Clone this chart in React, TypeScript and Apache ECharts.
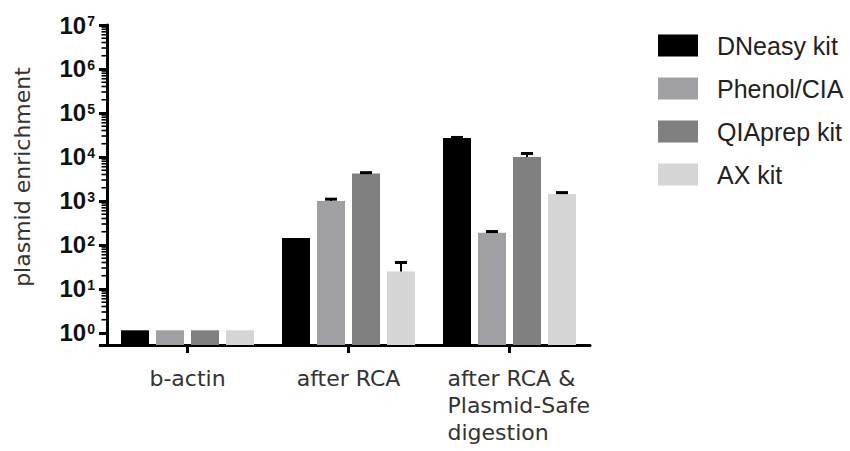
import React, { useEffect, useRef } from "react";
import * as echarts from "echarts";

const categories = ["b-actin", "after RCA", "after RCA &\nPlasmid-Safe\ndigestion"];
const seriesNames = ["DNeasy kit", "Phenol/CIA", "QIAprep kit", "AX kit"];
const seriesColors = ["#000000", "#a0a0a4", "#808080", "#d6d6d6"];
const dneasy = [1.15, 145, 27000];
const phenol = [1.15, 1000, 190];
const qiaprep = [1.15, 4200, 10000];
const axkit = [1.15, 25, 1450];
const dneasyErr = [0, 0, 800];
const phenolErr = [0, 100, 12];
const qiaprepErr = [0, 200, 2000];
const axkitErr = [0, 15, 100];
const minorMultipliers = [2, 3, 4, 5, 6, 7, 8, 9];
const minorDecades = [1, 10, 100, 1000, 10000, 100000, 1000000];

const BAR_W = 28;
const BAR_PITCH = 35;

export default function App() {
  const ref = useRef<HTMLDivElement>(null);
  useEffect(() => {
    if (!ref.current) return;
    document.body.style.margin = "0";
    const chart = echarts.init(ref.current, null, { renderer: "svg" });
    const values = [dneasy, phenol, qiaprep, axkit];
    const errs = [dneasyErr, phenolErr, qiaprepErr, axkitErr];
    const errData: number[][] = [];
    values.forEach((vals, si) =>
      vals.forEach((v, ci) => errData.push([ci, v, errs[si][ci], si]))
    );
    const minorValues: number[] = [];
    minorDecades.forEach((d) => minorMultipliers.forEach((m) => minorValues.push(m * d)));

    const barSeries = seriesNames.map((name, i) => ({
      name,
      type: "bar",
      data: values[i],
      barWidth: BAR_W,
      barGap: "25%",
      itemStyle: { color: seriesColors[i] },
      z: 2,
    }));

    chart.setOption({
      animation: false,
      grid: { left: 107, top: 25, width: 483, height: 320 },
      legend: {
        data: seriesNames,
        orient: "vertical",
        left: 658,
        top: 33,
        padding: 0,
        itemWidth: 40,
        itemHeight: 22,
        itemGap: 18,
        icon: "rect",
        textStyle: {
          fontFamily: "Liberation Sans",
          fontSize: 25,
          lineHeight: 25,
          color: "#222",
          padding: [0, 0, 0, 14],
        },
      },
      xAxis: {
        type: "category",
        data: categories,
        axisLine: { lineStyle: { color: "#000", width: 3 } },
        axisTick: { show: true, alignWithLabel: true, length: 8, lineStyle: { color: "#000", width: 3 } },
        axisLabel: {
          margin: 20,
          fontFamily: "DejaVu Sans",
          fontSize: 22,
          lineHeight: 27,
          color: "#333",
          interval: 0,
          formatter: (v: string) =>
            v.indexOf("\n") >= 0
              ? v.split("\n").map((l) => `{l|${l}}`).join("\n")
              : v,
          rich: {
            l: {
              width: 124,
              align: "left",
              fontFamily: "DejaVu Sans",
              fontSize: 22,
              lineHeight: 27,
              color: "#333",
            },
          },
        },
      },
      yAxis: {
        type: "log",
        logBase: 10,
        min: 0.533,
        max: 1e7,
        startValue: 0.533,
        splitLine: { show: false },
        axisLine: { show: true, lineStyle: { color: "#000", width: 3 } },
        axisTick: { show: true, length: 8, lineStyle: { color: "#000", width: 3 } },
        axisLabel: {
          margin: 12,
          formatter: (v: number) => {
            const e = Math.log10(v);
            const r = Math.round(e);
            if (Math.abs(e - r) > 1e-3) return "";
            return `{b|10}{s|${r}}`;
          },
          rich: {
            b: { fontFamily: "Liberation Sans", fontWeight: "bold", fontSize: 24, color: "#111" },
            s: {
              fontFamily: "Liberation Sans",
              fontWeight: "bold",
              fontSize: 14,
              color: "#111",
              padding: [0, 0, 8, 1],
            },
          },
        },
      },
      graphic: [
        {
          type: "text",
          x: 22,
          y: 177,
          rotation: Math.PI / 2,
          style: {
            text: "plasmid enrichment",
            fontFamily: "DejaVu Sans",
            fontSize: 22,
            fill: "#333",
            textAlign: "center",
            textVerticalAlign: "middle",
          },
        },
      ],
      series: [
        ...barSeries,
        {
          name: "err",
          type: "custom",
          z: 3,
          clip: false,
          data: errData,
          encode: { x: 0, y: 1 },
          renderItem: (params: any, api: any) => {
            const ci = api.value(0);
            const v = api.value(1);
            const e = api.value(2);
            const si = api.value(3);
            const children: any[] = [];
            if (params.dataIndex === 0) {
              const x0 = params.coordSys.x;
              minorValues.forEach((mv) => {
                const y = api.coord([0, mv])[1];
                children.push({
                  type: "line",
                  shape: { x1: x0 - 5.5, y1: y, x2: x0, y2: y },
                  style: { stroke: "#000", lineWidth: 1.6 },
                });
              });
            }
            if (e) {
              const base = api.coord([ci, v]);
              const top = api.coord([ci, v + e]);
              const x = base[0] + (si - 1.5) * BAR_PITCH;
              children.push(
                {
                  type: "line",
                  shape: { x1: x, y1: base[1], x2: x, y2: top[1] },
                  style: { stroke: "#000", lineWidth: 2 },
                },
                {
                  type: "line",
                  shape: { x1: x - 6, y1: top[1], x2: x + 6, y2: top[1] },
                  style: { stroke: "#000", lineWidth: 3 },
                }
              );
            }
            return { type: "group", children };
          },
        },
      ],
    });
    return () => chart.dispose();
  }, []);
  return <div ref={ref} style={{ width: 850, height: 451 }} />;
}
